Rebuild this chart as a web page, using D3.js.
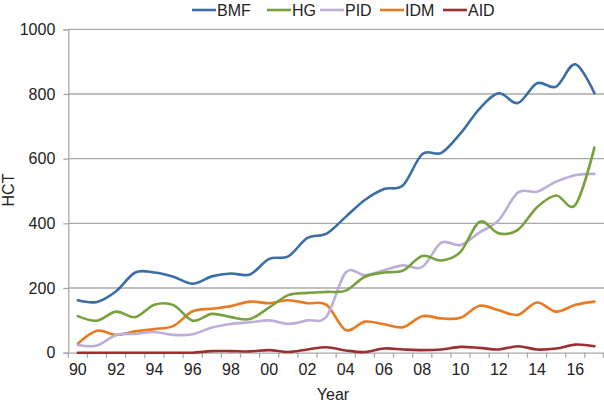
<!DOCTYPE html>
<html><head><meta charset="utf-8">
<script src="https://cdn.jsdelivr.net/npm/d3@7"></script>
<style>body{margin:0;background:#fff}svg{display:block}text{font-family:"Liberation Sans",Arial,sans-serif;fill:#222}</style>
</head><body><svg id="c" width="604" height="404"></svg>
<script>
const years = d3.range(1990, 2018);
const yearLabels = ["90","92","94","96","98","00","02","04","06","08","10","12","14","16"];
const yTicks = [0,200,400,600,800,1000];
const seriesNames = ["BMF","HG","PID","IDM","AID"];
const BMF = [162,157,190,248,248,235,213,236,245,242,290,298,355,368,420,472,506,518,614,618,678,755,802,772,833,823,892,802];
const HG  = [113,99,127,110,148,147,99,120,110,104,140,178,185,188,192,235,248,254,299,285,312,405,369,380,450,486,457,634];
const PID = [24,22,55,58,64,55,57,78,89,94,100,89,100,112,248,240,255,270,265,340,333,372,410,495,498,529,549,553];
const IDM = [28,68,55,66,73,83,128,136,144,158,153,162,153,148,70,96,88,79,113,106,108,145,131,117,155,127,148,158];
const AID = [0,0,0,0,0,0,0,5,5,4,8,2,10,17,7,2,13,10,8,10,18,15,10,20,10,13,25,20];
const seriesData = [BMF,HG,PID,IDM,AID];
const colors = ["#3c6ea6","#77a13c","#bcaed8","#ea7a22","#9c2f30"];

(function(){
const svg = d3.select("#c");
const mL = 68.3, mR = 604, mT = 29.3, mB = 352.7;
const x = d3.scaleBand().domain(years).range([mL, mR]);
const y = d3.scaleLinear().domain([0,1000]).range([mB, mT]);
const cx = d => x(d) + x.bandwidth()/2;

svg.append("g").selectAll("line").data(yTicks.filter(t=>t>0)).join("line")
  .attr("x1", mL).attr("x2", mR).attr("y1", d=>y(d)).attr("y2", d=>y(d))
  .attr("stroke", "#a8a8a8").attr("stroke-width", 1.3);

const ya = svg.append("g").attr("transform", `translate(${mL},0)`)
  .call(d3.axisLeft(y).tickValues(yTicks).tickSize(5).tickPadding(8).tickFormat(d3.format("d")));
ya.select(".domain").attr("stroke", "#a8a8a8").attr("stroke-width", 1.3);
ya.selectAll(".tick line").attr("stroke", "#a8a8a8").attr("stroke-width", 1.3);
ya.selectAll(".tick text").style("font-size", "16px").attr("fill", "#222");

const xa = svg.append("g").attr("transform", `translate(0,${mB})`)
  .call(d3.axisBottom(x).tickSize(0).tickPadding(11)
    .tickFormat(d => (d % 2 === 0) ? yearLabels[(d-1990)/2] : ""));
xa.select(".domain").attr("stroke", "#a8a8a8").attr("stroke-width", 1.3);
xa.selectAll(".tick text").style("font-size", "16px").attr("fill", "#222");
svg.append("g").selectAll("line").data(years.concat([2018])).join("line")
  .attr("x1", d => d===2018 ? mR-0.5 : x(d)).attr("x2", d => d===2018 ? mR-0.5 : x(d))
  .attr("y1", mB).attr("y2", mB+5)
  .attr("stroke", "#a8a8a8").attr("stroke-width", 1.3);

const line = d3.line().x((d,i)=>cx(years[i])).y(d=>y(d)).curve(d3.curveCatmullRom.alpha(0));
const order = [4,3,2,1,0];
svg.append("g").selectAll("path").data(order).join("path")
  .attr("d", k => line(seriesData[k]))
  .attr("fill", "none").attr("stroke", k => colors[k]).attr("stroke-width", 2.6)
  .attr("stroke-linejoin", "round").attr("stroke-linecap", "round");

svg.append("text").attr("x", 333).attr("y", 400).attr("text-anchor","middle").style("font-size","16px").text("Year");
svg.append("text").attr("transform","translate(14,190) rotate(-90)").attr("text-anchor","middle").style("font-size","16px").text("HCT");

const legX = [192, 267, 320, 380, 443];
const lg = svg.append("g").selectAll("g").data(seriesNames).join("g")
  .attr("transform", (d,i)=>`translate(${legX[i]},10)`);
lg.append("line").attr("x1",0).attr("x2",24).attr("y1",0).attr("y2",0)
  .attr("stroke",(d,i)=>colors[i]).attr("stroke-width",2.6);
lg.append("text").attr("x",25).attr("y",5.5).style("font-size","16px").text(d=>d);
})();
</script></body></html>
